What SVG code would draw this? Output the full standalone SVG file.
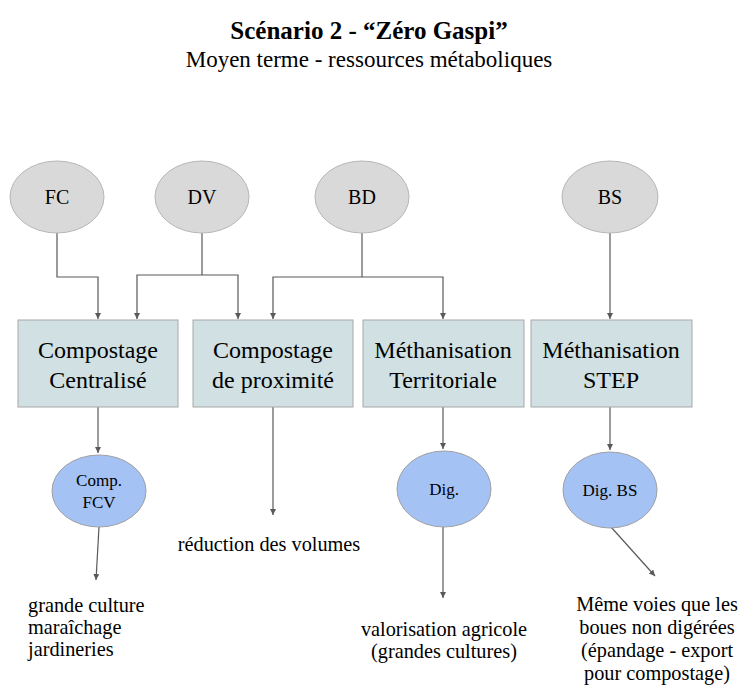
<svg xmlns="http://www.w3.org/2000/svg" width="738" height="686" viewBox="0 0 738 686">
<style>
text{font-family:"Liberation Serif","Times New Roman",serif;fill:#000;text-anchor:middle}
.src{fill:#d9d9d9;stroke:#b7b7b7;stroke-width:1}
.box{fill:#d0e0e3;stroke:#a8a8a8;stroke-width:1}
.out{fill:#a4c2f4;stroke:#a0a0a0;stroke-width:1}
.c{fill:none;stroke:#595959;stroke-width:1.2;marker-end:url(#ah)}
.l{fill:none;stroke:#595959;stroke-width:1.2}
.t1{font-size:25px;font-weight:bold}
.t2{font-size:23px}
.n{font-size:20px}
.b{font-size:24px}
.s{font-size:17px}
.o{font-size:20.3px}
.lft{text-anchor:start}
</style>
<defs>
<marker id="ah" markerWidth="8" markerHeight="8" refX="6" refY="3" orient="auto" markerUnits="userSpaceOnUse"><path d="M0,0 L6,3 L0,6 z" fill="#595959"/></marker>
</defs>
<rect width="738" height="686" fill="#fff"/>
<text class="t1" x="369" y="39">Scénario 2 - “Zéro Gaspi”</text>
<text class="t2" x="369" y="67">Moyen terme - ressources métaboliques</text>

<g id="connectors">
<path class="c" d="M57,233 V277 H98 V319"/>
<path class="l" d="M202,233 V275"/>
<path class="c" d="M202,275 H137 V319"/>
<path class="c" d="M202,275 H238 V319"/>
<path class="l" d="M362,233 V277"/>
<path class="c" d="M362,277 H273 V319"/>
<path class="c" d="M362,277 H443 V319"/>
<path class="c" d="M610,233 V319"/>
<path class="c" d="M98,407 V453"/>
<path class="c" d="M99,527 L96,580"/>
<path class="c" d="M273,407 V515"/>
<path class="c" d="M443,407 V449"/>
<path class="c" d="M443,527 V598"/>
<path class="c" d="M610,407 V450"/>
<path class="c" d="M611,527 L655,576"/>
</g>

<g id="FC"><ellipse class="src" cx="57" cy="197" rx="47" ry="36"/><text class="n" x="57" y="204">FC</text></g>
<g id="DV"><ellipse class="src" cx="202" cy="197" rx="47" ry="36"/><text class="n" x="202" y="204">DV</text></g>
<g id="BD"><ellipse class="src" cx="362" cy="197" rx="47" ry="36"/><text class="n" x="362" y="204">BD</text></g>
<g id="BS"><ellipse class="src" cx="610" cy="197" rx="48" ry="36"/><text class="n" x="610" y="204">BS</text></g>

<g id="compostage-centralise"><rect class="box" x="18" y="320" width="160" height="87"/><text class="b" x="98" y="358">Compostage</text><text class="b" x="98" y="388">Centralisé</text></g>
<g id="compostage-proximite"><rect class="box" x="193" y="320" width="160" height="87"/><text class="b" x="273" y="358">Compostage</text><text class="b" x="273" y="388">de proximité</text></g>
<g id="methanisation-territoriale"><rect class="box" x="363" y="320" width="161" height="87"/><text class="b" x="443" y="358">Méthanisation</text><text class="b" x="443" y="388">Territoriale</text></g>
<g id="methanisation-step"><rect class="box" x="531" y="320" width="161" height="87"/><text class="b" x="611" y="358">Méthanisation</text><text class="b" x="611" y="388">STEP</text></g>

<g id="comp-fcv"><ellipse class="out" cx="99" cy="491" rx="47" ry="36"/><text class="s" x="99" y="486">Comp.</text><text class="s" x="99" y="508">FCV</text></g>
<g id="dig"><ellipse class="out" cx="444" cy="489" rx="47" ry="38"/><text class="s" x="444" y="495">Dig.</text></g>
<g id="dig-bs"><ellipse class="out" cx="610" cy="490" rx="47" ry="38"/><text class="s" x="610" y="496">Dig. BS</text></g>

<g id="out-reduction"><text class="o" x="269" y="551">réduction des volumes</text></g>
<g id="out-culture"><text class="o lft" x="28" y="612">grande culture</text><text class="o lft" x="28" y="634">maraîchage</text><text class="o lft" x="28" y="656">jardineries</text></g>
<g id="out-valorisation"><text class="o" x="444" y="636">valorisation agricole</text><text class="o" x="444" y="658">(grandes cultures)</text></g>
<g id="out-boues"><text class="o" x="657" y="611">Même voies que les</text><text class="o" x="657" y="634">boues non digérées</text><text class="o" x="657" y="657">(épandage - export</text><text class="o" x="657" y="680">pour compostage)</text></g>
</svg>
